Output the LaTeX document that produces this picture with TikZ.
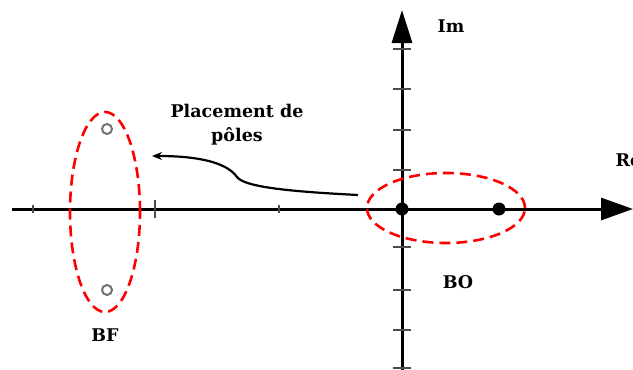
\documentclass[tikz,border=0pt]{standalone}
\usepackage{fontspec}
\setmainfont{DejaVu Serif}
\usetikzlibrary{positioning,arrows.meta,shapes.geometric}

\begin{document}
\begin{tikzpicture}[
  x=1pt, y=-1pt,
  font=\bfseries\fontsize{17.5}{24}\selectfont,
  axis/.style={line width=3pt, -{Triangle[length=32pt, width=22pt]}},
  tick/.style={line width=1.2pt, black!70},
  region/.style={draw=red, dashed, dash pattern=on 11pt off 6pt, line width=2.6pt},
  openpole/.style={circle, draw=black!55, line width=2pt, inner sep=0pt, minimum size=10pt},
  closedpole/.style={circle, fill=black, inner sep=0pt, minimum size=13pt},
  arrow/.style={-{Stealth[length=10pt, width=8pt]}, line width=2.2pt}
]
\useasboundingbox (0,0) rectangle (633,370);

% axes
\coordinate (O) at (402,209);
\draw[axis] (12,209) -- (633,209);
\draw[axis, -{Triangle[length=33pt, width=20pt]}] (402,370) -- (402,10);

% ticks
\foreach \ty in {49,89,130,170,247,290,330,368}
  \draw[tick] (393,\ty) -- (411,\ty);
\foreach \tx in {33,279}
  \draw[tick] (\tx,205) -- (\tx,213);
\draw[tick, line width=1.6pt] (155,200) -- (155,218);

% regions
\node[region, ellipse, minimum width=70pt, minimum height=200pt, inner sep=0pt] (bf) at (105,212) {};
\node[region, ellipse, minimum width=158pt, minimum height=70pt, inner sep=0pt] (bo) at (446,208) {};

% poles
\node[openpole] (p1) at (107,129) {};
\node[openpole] (p2) at (107,290) {};
\node[closedpole] (q1) at (O) {};
\node[closedpole] (q2) at (499,209) {};

% labels
\node (im) at (451,26) {Im};
\node[anchor=west] (re) at (612,160) {Re};
\node (bflabel) at (105,335) {BF};
\node (bolabel) at (458,282) {BO};
\node[align=center] (placement) at (237,125) {Placement de\\pôles};

% arrow
\coordinate (start) at (358,195);
\coordinate (finish) at (152,156);
\draw[arrow] (start) .. controls (300,192) and (245,188) .. (237,177)
  .. controls (225,160) and (190,156) .. (finish);
\end{tikzpicture}
\end{document}
